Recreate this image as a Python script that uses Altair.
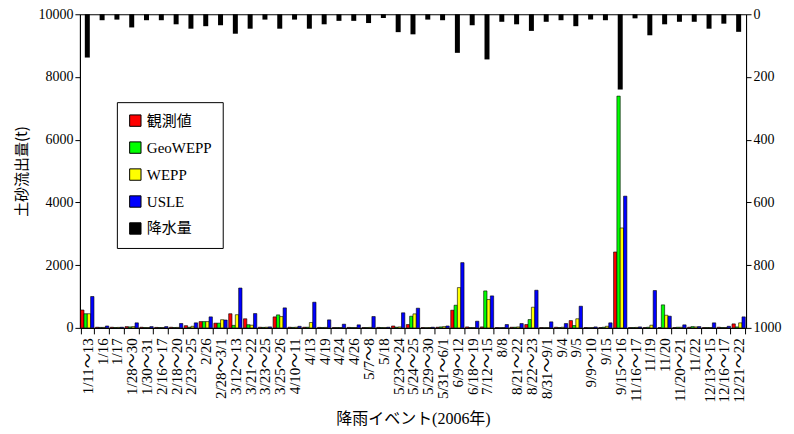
import altair as alt
import pandas as pd

categories = ["1/11～13", "1/16", "1/17", "1/28～30", "1/30～31", "2/16～17", "2/18～20",
              "2/23～25", "2/26", "2/28～3/1", "3/12～13", "3/21～22", "3/23～25", "3/25～26",
              "4/10～11", "4/13", "4/19", "4/24", "4/26", "5/7～8", "5/18", "5/23～24",
              "5/24～25", "5/29～30", "5/31～6/1", "6/9～12", "6/18～19", "7/12～15", "8/8",
              "8/21～22", "8/22～23", "8/31～9/1", "9/4", "9/5", "9/9～10", "9/15", "9/15～16",
              "11/16～17", "11/19", "11/20", "11/20～21", "11/22", "12/13～15", "12/16～17",
              "12/21～22"]

obs = [570, 20, 20, 40, 20, 15, 20, 70, 200, 150, 450, 290, 20, 350, 20, 20, 15, 10, 15, 10,
       15, 60, 106, 10, 20, 563, 30, 30, 10, 20, 106, 10, 20, 233, 10, 10, 2420, 10, 10, 10,
       10, 20, 10, 20, 127]
geowepp = [450, 15, 10, 30, 10, 10, 10, 20, 200, 150, 80, 100, 15, 414, 15, 20, 10, 10, 10, 10,
           10, 20, 372, 5, 30, 722, 10, 1178, 5, 20, 265, 5, 10, 74, 5, 20, 7390, 10, 20, 733,
           20, 40, 10, 10, 30]
wepp = [450, 15, 15, 40, 10, 10, 15, 50, 200, 260, 420, 85, 20, 360, 20, 170, 15, 10, 10, 15,
        10, 30, 446, 10, 40, 1284, 10, 903, 10, 30, 658, 10, 20, 290, 10, 50, 3185, 15, 85, 403,
        20, 30, 10, 10, 160]
usle = [1000, 60, 20, 160, 40, 40, 140, 160, 350, 250, 1270, 456, 30, 637, 50, 818, 255, 117,
        96, 361, 20, 480, 627, 20, 60, 2080, 212, 1019, 106, 138, 1200, 191, 138, 690, 30, 160,
        4200, 30, 1190, 372, 96, 40, 160, 50, 350]
precip = [138, 19, 17, 42, 19, 19, 32, 46, 38, 35, 62, 46, 17, 46, 17, 46, 32, 21, 21, 28,
          12, 57, 64, 17, 19, 123, 35, 144, 24, 32, 53, 24, 19, 38, 17, 19, 240, 13, 67, 32,
          24, 24, 46, 30, 56]

series4 = ["観測値", "GeoWEPP", "WEPP", "USLE"]
all_series = series4 + ["降水量"]
colors = ["#FF0000", "#00FF00", "#FFFF00", "#0000FF", "#000000"]

rows = []
for name, vals in zip(series4, [obs, geowepp, wepp, usle]):
    for c, v in zip(categories, vals):
        rows.append({"category": c, "series": name, "value": v})
df_sed = pd.DataFrame(rows)
df_p = pd.DataFrame({"category": categories, "series": "降水量", "value": precip})

serif = "Liberation Serif, Noto Sans CJK JP"
jp = "Noto Sans CJK JP"

x_enc = alt.X(
    "category:N", sort=categories,
    scale=alt.Scale(paddingInner=0.1, paddingOuter=0.05),
    axis=alt.Axis(title="降雨イベント(2006年)", labelAngle=-90, tickBand="extent",
                  labelFont=serif, labelFontSize=15, labelPadding=4, tickSize=6,
                  titleFont=serif, titleFontSize=16, titleFontWeight="normal",
                  titlePadding=9, domainColor="black", tickColor="black",
                  labelColor="black", titleColor="black", grid=False)
)

color_enc = alt.Color(
    "series:N",
    scale=alt.Scale(domain=all_series, range=colors),
    sort=all_series,
    legend=alt.Legend(title=None, orient="none", legendX=37, legendY=88,
                      symbolType="square", symbolSize=130, symbolStrokeColor="black",
                      symbolStrokeWidth=1, labelFont=serif, labelFontSize=15,
                      labelColor="black", rowPadding=10, padding=11,
                      strokeColor="black", fillColor="white", labelOffset=4)
)

bars = alt.Chart(df_sed).mark_bar(stroke="black", strokeWidth=0.6).encode(
    x=x_enc,
    xOffset=alt.XOffset("series:N", sort=series4, scale=alt.Scale(domain=series4)),
    y=alt.Y("value:Q", scale=alt.Scale(domain=[0, 10000]),
            axis=alt.Axis(title="土砂流出量(t)", values=[0, 2000, 4000, 6000, 8000, 10000],
                          format="d", grid=False, labelFont=serif, labelFontSize=14,
                          titleFont=jp, titleFontSize=15, titleFontWeight="normal",
                          titlePadding=8, domainColor="black", tickColor="black",
                          labelColor="black", titleColor="black", tickSize=5)),
    color=color_enc,
)

rain = alt.Chart(df_p).mark_bar(size=5).encode(
    x=x_enc,
    y=alt.Y("value:Q", scale=alt.Scale(domain=[0, 1000], reverse=True),
            axis=alt.Axis(orient="right", title=None, values=[0, 200, 400, 600, 800, 1000],
                          format="d", grid=False, labelFont=serif, labelFontSize=14,
                          domainColor="black", tickColor="black", labelColor="black",
                          tickSize=5)),
    color=color_enc,
)

chart = alt.layer(bars, rain).resolve_scale(y="independent").properties(
    width=667, height=314,
    autosize=alt.AutoSizeParams(type="none"),
    padding={"left": 72, "top": 6, "right": 40, "bottom": 104},
).configure_view(stroke="black", strokeWidth=1)

chart.save("out.html", embed_options={"renderer": "svg", "actions": False})
